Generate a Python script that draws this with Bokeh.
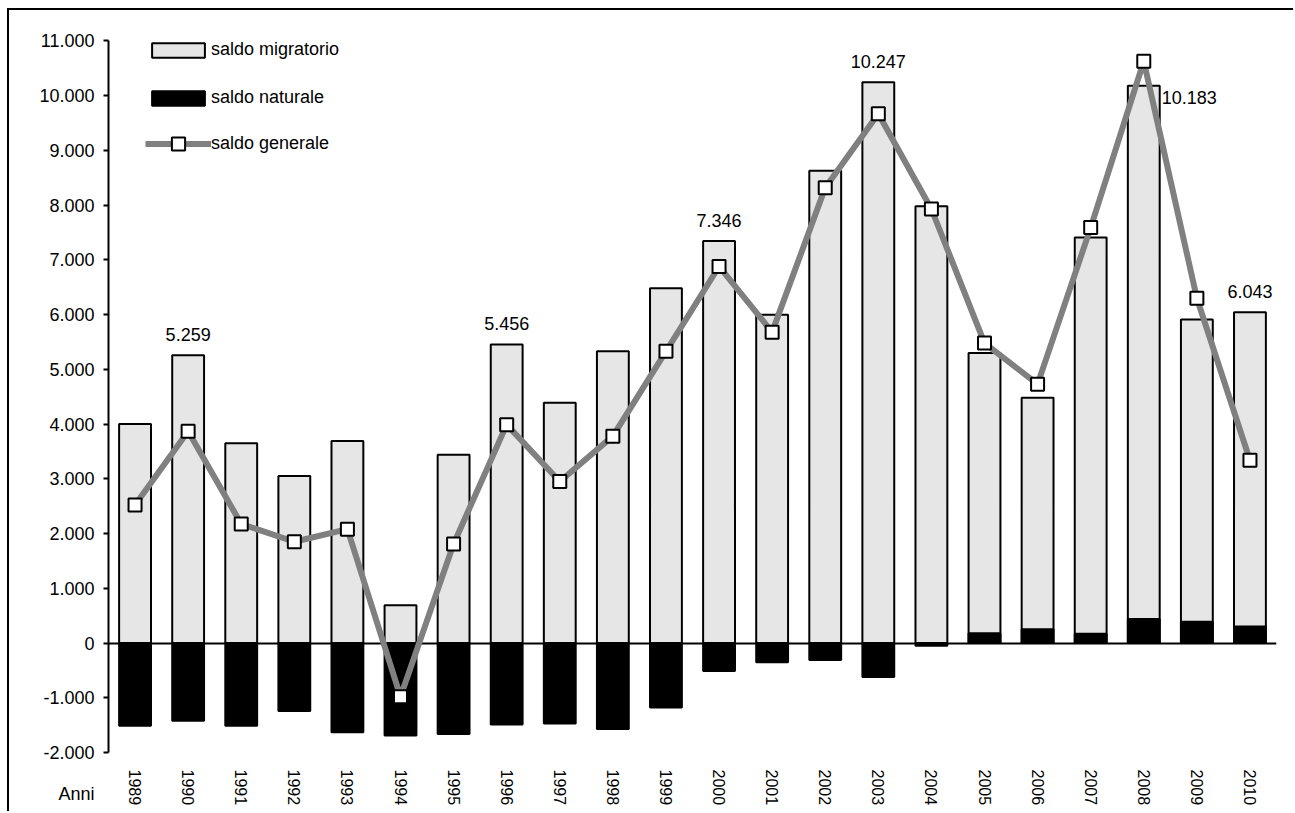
import math
from bokeh.plotting import figure
from bokeh.models import (ColumnDataSource, FactorRange, Range1d, FixedTicker,
                          Legend, LegendItem, Label)
from bokeh.core.properties import value
from bokeh.embed import file_html
from bokeh.resources import INLINE

# ---- data ----
years = [str(y) for y in range(1989, 2011)]
saldo_migratorio = [4000, 5259, 3650, 3050, 3690, 690, 3440, 5456, 4390, 5330, 6480,
                    7346, 6000, 8630, 10247, 7980, 5300, 4480, 7410, 10183, 5910, 6043]
saldo_naturale = [-1510, -1420, -1510, -1240, -1630, -1690, -1660, -1490, -1470, -1570, -1180,
                  -510, -350, -310, -620, -50, 180, 250, 170, 440, 390, 300]
saldo_generale = [2520, 3870, 2175, 1850, 2080, -980, 1810, 3990, 2950, 3780, 5330,
                  6880, 5680, 8320, 9670, 7930, 5480, 4730, 7590, 10630, 6300, 3340]
y_ticks = [-2000, -1000, 0, 1000, 2000, 3000, 4000, 5000, 6000, 7000, 8000, 9000, 10000, 11000]
y_tick_labels = ["-2.000", "-1.000", "0", "1.000", "2.000", "3.000", "4.000", "5.000",
                 "6.000", "7.000", "8.000", "9.000", "10.000", "11.000"]
labelled_years = ["1990", "1996", "2000", "2003", "2010"]
labelled_years_side = ["2008"]
x_title = "Anni"


def fmt(v):
    return f"{v:,}".replace(",", ".")


FONT = "Liberation Sans"
W, H = 1286, 803

src = ColumnDataSource(dict(x=years, mig=saldo_migratorio, nat=saldo_naturale, gen=saldo_generale))

p = figure(width=W, height=H, x_range=FactorRange(*years, range_padding=0),
           y_range=Range1d(-2000, 11100), output_backend="svg", toolbar_location=None,
           min_border_left=99, min_border_right=19, min_border_top=25, min_border_bottom=61)
p.styles = {"margin-left": "7px", "margin-top": "8px",
            "border-left": "2px solid black", "border-top": "2px solid black"}
p.outline_line_color = None
p.xgrid.grid_line_color = None
p.ygrid.grid_line_color = None

r_mig = p.vbar(x="x", top="mig", bottom=0, width=0.6, source=src,
               fill_color="#e6e6e6", line_color="black", line_width=2)
r_nat = p.vbar(x="x", top="nat", bottom=0, width=0.6, source=src,
               fill_color="black", line_color="black", line_width=2)
p.hspan(y=[0], line_color="black", line_width=2)
r_line = p.line(x="x", y="gen", source=src, line_color="#808080", line_width=6)
r_pts = p.scatter(x="x", y="gen", source=src, marker="square", size=13,
                  fill_color="white", line_color="black", line_width=2)

# data labels
idx = [years.index(y) for y in labelled_years]
lab_src = ColumnDataSource(dict(x=labelled_years, y=[saldo_migratorio[i] for i in idx],
                                t=[fmt(saldo_migratorio[i]) for i in idx]))
p.text(x="x", y="y", text="t", source=lab_src, text_align="center", text_baseline="bottom",
       y_offset=-14, text_font=value(FONT), text_font_size="18px", text_color="black")
idx2 = [years.index(y) for y in labelled_years_side]
lab_src2 = ColumnDataSource(dict(x=labelled_years_side, y=[saldo_migratorio[i] for i in idx2],
                                 t=[fmt(saldo_migratorio[i]) for i in idx2]))
p.text(x="x", y="y", text="t", source=lab_src2, text_align="left", text_baseline="middle",
       x_offset=18, y_offset=12, text_font=value(FONT), text_font_size="18px", text_color="black")

# axes
yax = p.yaxis[0]
yax.ticker = FixedTicker(ticks=y_ticks)
yax.bounds = (y_ticks[0], y_ticks[-1])
yax.major_label_overrides = {t: l for t, l in zip(y_ticks, y_tick_labels)}
yax.axis_line_width = 2
yax.axis_line_color = "black"
yax.major_tick_line_width = 2
yax.major_tick_line_color = "black"
yax.major_tick_in = 0
yax.major_tick_out = 5
yax.minor_tick_line_color = None
yax.major_label_standoff = 9
yax.major_label_text_font = FONT
yax.major_label_text_font_size = "18px"
yax.major_label_text_color = "black"

xax = p.xaxis[0]
xax.axis_line_color = None
xax.major_tick_line_color = None
xax.minor_tick_line_color = None
xax.major_tick_out = 0
xax.major_tick_in = 0
xax.major_label_standoff = 17
xax.major_label_orientation = -math.pi / 2
xax.major_label_text_font = FONT
xax.major_label_text_font_size = "16px"
xax.major_label_text_color = "black"

# axis title "Anni", left of the year labels (kept in a side panel so it is not clipped)
p.add_layout(Label(x=-32, y=-758, x_units="screen", y_units="screen", text=x_title,
                   text_align="center", text_baseline="middle", text_font=FONT,
                   text_font_size="18px", text_color="black"), "above")

common = dict(padding=0, margin=0, glyph_width=66, label_standoff=0, border_line_color=None,
              background_fill_alpha=0, label_text_font=FONT, label_text_font_size="18px",
              label_text_color="black")
legend_a = Legend(items=[
    LegendItem(label="saldo migratorio", renderers=[r_mig]),
    LegendItem(label="saldo naturale", renderers=[r_nat]),
], location=(37, 644), spacing=27, glyph_height=18, label_height=20, **common)
legend_b = Legend(items=[
    LegendItem(label="saldo generale", renderers=[r_line, r_pts]),
], location=(37, 592), spacing=0, glyph_height=33, label_height=20, **common)
p.add_layout(legend_a)
p.add_layout(legend_b)

open("out.html", "w").write(file_html(p, INLINE))
